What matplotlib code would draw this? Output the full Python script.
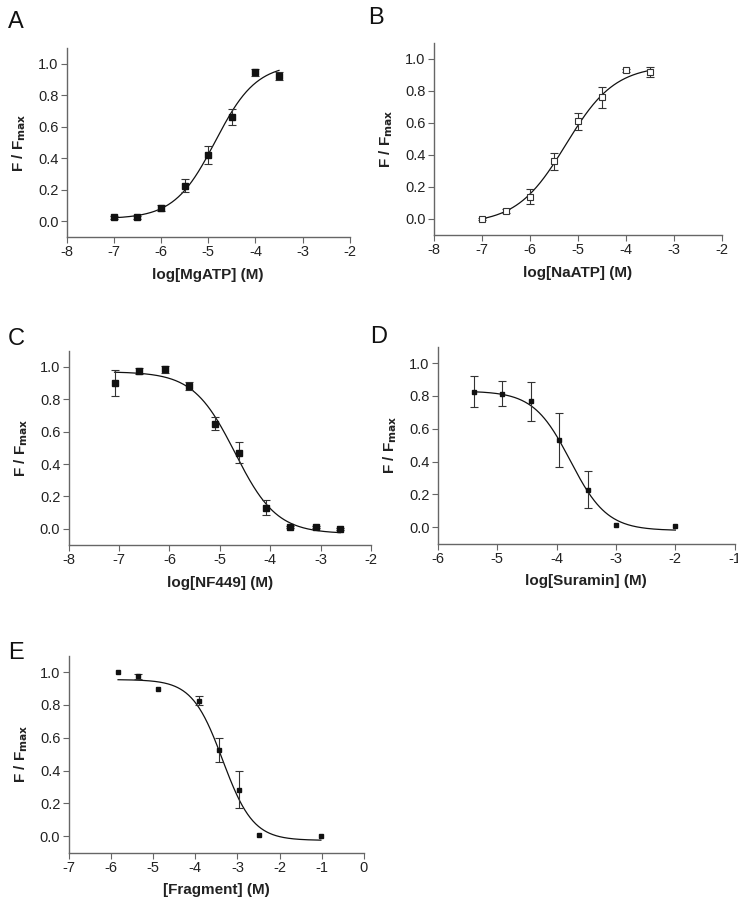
import numpy as np
import matplotlib
matplotlib.use("Agg")
import matplotlib.pyplot as plt

plt.rcParams['font.family'] = ['Liberation Sans', 'DejaVu Sans']
plt.rcParams['axes.unicode_minus'] = False

# ---- Data ----
a_x = [-7, -6.5, -6, -5.5, -5, -4.5, -4, -3.5]
a_y = [0.025, 0.025, 0.085, 0.225, 0.42, 0.66, 0.945, 0.92]
a_err = [0.008, 0.008, 0.02, 0.04, 0.055, 0.05, 0.02, 0.025]
a_fit = [0.015, 1.0, -4.85, 1.0]          # bottom, top, logEC50, hill

b_x = [-7, -6.5, -6, -5.5, -5, -4.5, -4, -3.5]
b_y = [0.0, 0.05, 0.14, 0.36, 0.61, 0.76, 0.93, 0.92]
b_err = [0.005, 0.015, 0.045, 0.055, 0.055, 0.065, 0.01, 0.03]
b_fit = [-0.03, 0.96, -5.25, 0.85]

c_x = [-7.09, -6.61, -6.09, -5.61, -5.09, -4.61, -4.09, -3.61, -3.09, -2.61]
c_y = [0.90, 0.975, 0.985, 0.88, 0.65, 0.47, 0.13, 0.01, 0.01, 0.0]
c_err = [0.08, 0.02, 0.02, 0.025, 0.04, 0.065, 0.045, 0.005, 0.005, 0.005]
c_fit = [-0.03, 0.97, -4.70, -1.05]

d_x = [-5.4, -4.92, -4.44, -3.96, -3.48, -3.0, -2.0]
d_y = [0.826, 0.814, 0.768, 0.531, 0.228, 0.014, 0.006]
d_err = [0.095, 0.075, 0.12, 0.166, 0.113, 0.0, 0.0]
d_fit = [-0.02, 0.83, -3.77, -1.4]

e_x = [-5.83, -5.35, -4.88, -3.92, -3.44, -2.96, -2.49, -1.02]
e_y = [1.004, 0.976, 0.90, 0.827, 0.526, 0.283, 0.01, 0.002]
e_err = [0.0, 0.015, 0.0, 0.03, 0.074, 0.113, 0.0, 0.0]
e_fit = [-0.025, 0.955, -3.35, -1.2]

yticks = [0.0, 0.2, 0.4, 0.6, 0.8, 1.0]

panels = [
    dict(letter='A', x=a_x, y=a_y, err=a_err, fit=a_fit, xlim=(-8, -2),
         xlabel='log[MgATP] (M)', pos=[0.0904, 0.737, 0.3835, 0.2097],
         open=False, ms=4.4, lpos=(0.022, 0.988)),
    dict(letter='B', x=b_x, y=b_y, err=b_err, fit=b_fit, xlim=(-8, -2),
         xlabel='log[NaATP] (M)', pos=[0.588, 0.7392, 0.390, 0.2131],
         open=True, ms=4.6, lpos=(0.51, 0.992)),
    dict(letter='C', x=c_x, y=c_y, err=c_err, fit=c_fit, xlim=(-8, -2),
         xlabel='log[NF449] (M)', pos=[0.0931, 0.3951, 0.4096, 0.2157],
         open=False, ms=4.4, lpos=(0.022, 0.636)),
    dict(letter='D', x=d_x, y=d_y, err=d_err, fit=d_fit, xlim=(-6, -1),
         xlabel='log[Suramin] (M)', pos=[0.5935, 0.3966, 0.402, 0.2186],
         open=False, ms=2.3, lpos=(0.513, 0.638)),
    dict(letter='E', x=e_x, y=e_y, err=e_err, fit=e_fit, xlim=(-7, 0),
         xlabel='[Fragment] (M)', pos=[0.0931, 0.0536, 0.400, 0.2186],
         open=False, ms=2.3, lpos=(0.022, 0.288)),
]

fig = plt.figure(figsize=(7.38, 9.01), dpi=100)
spine_col = '#666666'
txt_col = '#222222'

for p in panels:
    ax = fig.add_axes(p['pos'])
    x = np.array(p['x'])
    y = np.array(p['y'])
    err = np.array(p['err'])
    bottom, top, c50, hill = p['fit']
    xc = np.linspace(x.min(), x.max(), 300)
    yc = bottom + (top - bottom) / (1 + 10 ** ((c50 - xc) * hill))
    ax.plot(xc, yc, color='#111111', lw=0.9, zorder=2)
    m = err > 0
    ax.errorbar(x[m], y[m], yerr=err[m], fmt='none', ecolor='#333333',
                elinewidth=0.8, capsize=3, capthick=0.8, zorder=3)
    if p['open']:
        ax.plot(x, y, 's', ms=p['ms'], mfc='white', mec='#333333',
                mew=0.8, ls='none', zorder=4)
    else:
        ax.plot(x, y, 's', ms=p['ms'], color='#111111', ls='none', zorder=4)
    ax.set_xlim(*p['xlim'])
    ax.set_ylim(-0.1, 1.1)
    ax.set_yticks(yticks)
    ax.set_yticklabels([f'{v:.1f}' for v in yticks])
    xt = np.arange(p['xlim'][0], p['xlim'][1] + 0.5, 1)
    ax.set_xticks(xt)
    ax.set_xticklabels([f'{int(v)}' for v in xt])
    for s in ['top', 'right']:
        ax.spines[s].set_visible(False)
    for s in ['left', 'bottom']:
        ax.spines[s].set_color(spine_col)
        ax.spines[s].set_linewidth(1.0)
    ax.tick_params(direction='out', length=4, width=0.8, color=spine_col,
                   labelsize=10.5, labelcolor=txt_col, pad=2)
    ax.set_xlabel(p['xlabel'], fontsize=11, fontweight='bold', color=txt_col, labelpad=6)
    ax.set_ylabel(r'F / F$_{\mathbf{max}}$', fontsize=11, fontweight='bold',
                  color=txt_col, labelpad=7)
    fig.text(p['lpos'][0], p['lpos'][1], p['letter'], fontsize=17,
             color='#111111', ha='center', va='top')

fig.savefig('out.png', dpi=100)
